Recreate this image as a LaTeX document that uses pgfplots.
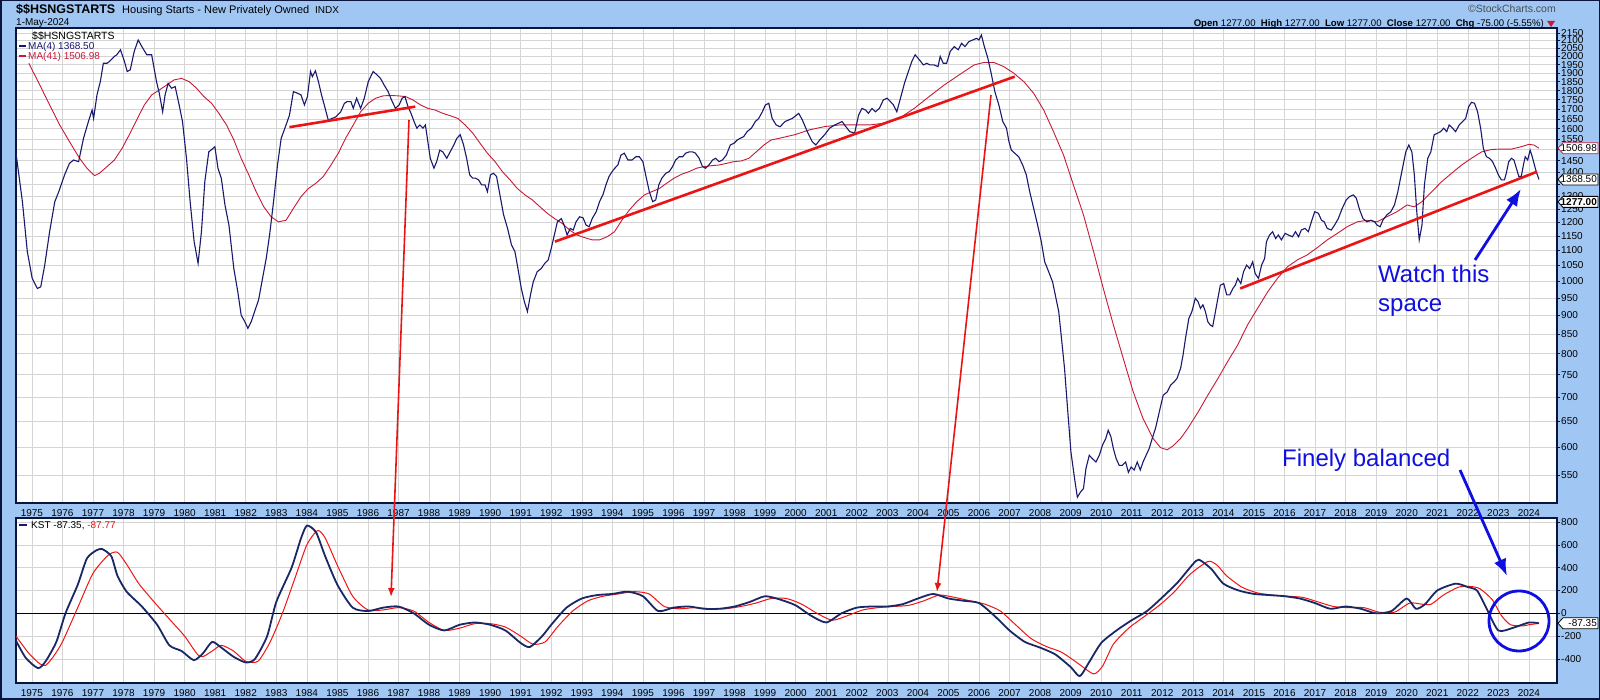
\documentclass[border=0pt]{standalone}
\usepackage{fontspec}
\setmainfont{Liberation Sans}
\usepackage{pgfplots}
\pgfplotsset{compat=1.18}
\usetikzlibrary{arrows.meta}
\definecolor{bgblue}{RGB}{160,198,244}
\definecolor{frame}{RGB}{10,20,60}
\definecolor{ma4}{RGB}{25,25,110}
\definecolor{ma41}{RGB}{200,25,55}
\definecolor{kst}{RGB}{25,40,100}
\definecolor{sig}{RGB}{240,20,20}
\definecolor{trend}{RGB}{235,20,20}
\definecolor{annblue}{RGB}{15,15,225}
\definecolor{gridc}{RGB}{212,212,212}
\newcommand{\tf}{\fontsize{10}{12}\selectfont}
\pgfplotsset{chartax/.style={scale only axis, width=1541pt, xmin=1974.48, xmax=2024.92,
  axis background/.style={fill=white}, axis line style={frame, line width=1.2pt},
  xtick={1975,1976,...,2024}, minor x tick num=1, xmajorgrids, xminorgrids, ymajorgrids,
  major grid style={gridc, line width=0.6pt}, minor grid style={gridc, line width=0.6pt},
  xtick style={draw=none}, minor tick length=0pt,
  ytick pos=right, yticklabel pos=right, tick align=outside, major tick length=3pt,
  ytick style={frame, line width=0.6pt},
  tick label style={font=\tf},
  yticklabel style={anchor=west, inner sep=0pt, xshift=1pt},
  xticklabel style={anchor=north, inner sep=0pt, yshift=-3pt, /pgf/number format/1000 sep={}, /pgf/number format/assume math mode=true},
  enlargelimits=false, clip=true}}
\begin{document}
\begin{tikzpicture}
\useasboundingbox (0,0) rectangle (1600pt,700pt);
\fill[bgblue] (0,0) rectangle (1600pt,700pt);
\draw[frame, line width=1.5pt] (0.75pt,0.75pt) rectangle (1599.25pt,699.25pt);

% ---------------- top panel ----------------
\begin{axis}[chartax, at={(16pt,197pt)}, anchor=south west, height=475pt,
  ymode=log, ymin=505, ymax=2183, yminorticks=false,
  ytick={550,600,650,700,750,800,850,900,950,1000,1050,1100,1150,1200,1250,1300,1350,1400,1450,1500,1550,1600,1650,1700,1750,1800,1850,1900,1950,2000,2050,2100,2150},
  yticklabels={550,600,650,700,750,800,850,900,950,1000,1050,1100,1150,1200,1250,1300,,1400,1450,,1550,1600,1650,1700,1750,1800,1850,1900,1950,2000,2050,2100,2150}]
% MA(41)
\addplot[ma41, line width=0.9pt] coordinates {
(1974.90,1958) (1975.26,1831) (1975.58,1722) (1975.91,1619) (1976.23,1538) (1976.56,1461) (1976.80,1417) (1977.05,1385) (1977.21,1395) (1977.46,1424) (1977.70,1453) (1977.95,1506) (1978.19,1571) (1978.43,1644) (1978.68,1722) (1978.92,1776) (1979.17,1803) (1979.41,1831) (1979.65,1860) (1979.90,1869) (1980.15,1850) (1980.39,1813) (1980.63,1767) (1980.88,1731) (1981.12,1678) (1981.37,1619) (1981.61,1546) (1981.85,1461) (1982.10,1388) (1982.34,1318) (1982.59,1258) (1982.83,1220) (1983.07,1201) (1983.32,1207) (1983.56,1252) (1983.81,1298) (1984.05,1331) (1984.30,1353) (1984.54,1381) (1984.79,1431) (1985.03,1484) (1985.27,1554) (1985.52,1619) (1985.76,1686) (1986.01,1731) (1986.25,1758) (1986.50,1771) (1986.74,1773) (1986.98,1771) (1987.23,1767) (1987.47,1749) (1987.72,1722) (1987.96,1704) (1988.20,1695) (1988.45,1678) (1988.69,1666) (1988.94,1652) (1989.18,1619) (1989.43,1579) (1989.67,1530) (1989.91,1484) (1990.16,1446) (1990.40,1402) (1990.65,1367) (1990.89,1331) (1991.14,1305) (1991.38,1285) (1991.63,1258) (1991.87,1233) (1992.11,1213) (1992.36,1195) (1992.60,1171) (1992.85,1153) (1993.09,1144) (1993.34,1136) (1993.58,1136) (1993.83,1147) (1994.07,1165) (1994.31,1207) (1994.56,1246) (1994.80,1278) (1995.05,1305) (1995.29,1318) (1995.54,1331) (1995.78,1353) (1996.02,1374) (1996.27,1391) (1996.51,1402) (1996.76,1417) (1997.00,1424) (1997.25,1428) (1997.49,1431) (1997.73,1438) (1997.98,1446) (1998.22,1449) (1998.47,1461) (1998.71,1490) (1998.96,1522) (1999.20,1546) (1999.44,1553) (1999.97,1571) (2000.46,1595) (2000.95,1611) (2001.44,1619) (2001.93,1619) (2002.42,1619) (2002.91,1628) (2003.39,1652) (2003.88,1704) (2004.37,1767) (2004.86,1831) (2005.35,1889) (2005.84,1948) (2006.16,1963) (2006.49,1963) (2006.81,1938) (2007.14,1899) (2007.47,1850) (2007.79,1785) (2008.12,1695) (2008.44,1586) (2008.77,1475) (2009.09,1346) (2009.42,1227) (2009.75,1096) (2010.07,978) (2010.40,874) (2010.72,789) (2011.05,711) (2011.37,655) (2011.70,616) (2011.94,599) (2012.16,595) (2012.35,602) (2012.60,616) (2012.84,636) (2013.17,668) (2013.49,704) (2013.82,741) (2014.14,781) (2014.47,822) (2014.79,874) (2015.12,920) (2015.45,968) (2015.77,1009) (2016.10,1046) (2016.42,1068) (2016.75,1085) (2017.07,1109) (2017.40,1136) (2017.73,1159) (2018.05,1183) (2018.38,1201) (2018.70,1207) (2019.03,1201) (2019.35,1220) (2019.68,1239) (2020.01,1265) (2020.25,1258) (2020.50,1278) (2020.82,1318) (2021.15,1360) (2021.47,1395) (2021.80,1431) (2022.12,1461) (2022.45,1490) (2022.77,1501) (2023.10,1503) (2023.43,1503) (2023.75,1514) (2024.00,1525) (2024.16,1522) (2024.33,1507)
};
% MA(4)
\addplot[ma4, line width=1.1pt] coordinates {
(1974.48,1484) (1974.69,1278) (1974.85,1096) (1975.01,1009) (1975.18,978) (1975.29,983) (1975.42,1051) (1975.58,1165) (1975.75,1278) (1975.88,1318) (1976.07,1388) (1976.23,1438) (1976.36,1453) (1976.53,1446) (1976.69,1554) (1976.85,1636) (1976.97,1695) (1977.02,1652) (1977.13,1776) (1977.24,1850) (1977.34,1958) (1977.46,1958) (1977.54,1969) (1977.70,2000) (1977.78,2010) (1977.90,2041) (1978.03,1969) (1978.12,1909) (1978.22,1919) (1978.35,2031) (1978.48,2104) (1978.60,2061) (1978.76,2010) (1978.92,2010) (1979.08,1850) (1979.17,1785) (1979.28,1686) (1979.36,1776) (1979.46,1840) (1979.57,1813) (1979.69,1822) (1979.82,1722) (1979.93,1636) (1980.06,1461) (1980.18,1278) (1980.31,1130) (1980.44,1057) (1980.55,1165) (1980.66,1359) (1980.79,1490) (1980.92,1505) (1980.99,1514) (1981.09,1417) (1981.20,1374) (1981.32,1265) (1981.45,1189) (1981.61,1040) (1981.74,968) (1981.85,901) (1981.97,883) (1982.07,865) (1982.18,883) (1982.29,911) (1982.42,944) (1982.55,1009) (1982.67,1073) (1982.78,1153) (1982.91,1278) (1983.04,1431) (1983.16,1554) (1983.32,1619) (1983.43,1668) (1983.56,1794) (1983.70,1785) (1983.81,1776) (1983.92,1722) (1984.02,1767) (1984.12,1909) (1984.18,1879) (1984.28,1913) (1984.38,1850) (1984.48,1776) (1984.57,1722) (1984.70,1644) (1984.83,1652) (1984.95,1660) (1985.11,1686) (1985.23,1731) (1985.32,1740) (1985.44,1740) (1985.52,1704) (1985.63,1758) (1985.76,1704) (1985.88,1758) (1986.01,1850) (1986.17,1909) (1986.30,1889) (1986.41,1869) (1986.53,1831) (1986.66,1794) (1986.77,1749) (1986.90,1704) (1987.02,1722) (1987.12,1758) (1987.21,1767) (1987.31,1713) (1987.41,1678) (1987.51,1636) (1987.60,1603) (1987.70,1619) (1987.80,1603) (1987.88,1619) (1987.96,1538) (1988.04,1461) (1988.16,1417) (1988.25,1446) (1988.35,1498) (1988.45,1490) (1988.58,1461) (1988.69,1490) (1988.81,1522) (1988.91,1554) (1989.02,1571) (1989.13,1522) (1989.23,1461) (1989.33,1388) (1989.43,1374) (1989.52,1374) (1989.62,1367) (1989.72,1346) (1989.83,1346) (1989.91,1318) (1990.01,1388) (1990.11,1395) (1990.21,1381) (1990.32,1305) (1990.44,1227) (1990.57,1177) (1990.70,1118) (1990.81,1096) (1990.89,1051) (1991.02,978) (1991.12,939) (1991.22,911) (1991.32,959) (1991.41,998) (1991.54,1030) (1991.67,1040) (1991.79,1057) (1991.90,1068) (1992.00,1107) (1992.10,1153) (1992.20,1201) (1992.33,1213) (1992.42,1189) (1992.52,1153) (1992.62,1177) (1992.72,1171) (1992.81,1201) (1992.93,1220) (1993.04,1216) (1993.14,1189) (1993.24,1183) (1993.34,1213) (1993.47,1239) (1993.58,1278) (1993.69,1305) (1993.79,1346) (1993.89,1381) (1993.99,1402) (1994.08,1417) (1994.18,1431) (1994.28,1475) (1994.39,1484) (1994.51,1453) (1994.64,1453) (1994.77,1468) (1994.88,1468) (1995.00,1446) (1995.09,1388) (1995.21,1318) (1995.32,1278) (1995.42,1285) (1995.52,1346) (1995.62,1374) (1995.75,1395) (1995.86,1402) (1995.97,1424) (1996.07,1453) (1996.19,1468) (1996.30,1468) (1996.40,1484) (1996.51,1490) (1996.63,1490) (1996.72,1484) (1996.84,1461) (1996.95,1424) (1997.05,1417) (1997.16,1431) (1997.28,1453) (1997.38,1461) (1997.49,1446) (1997.60,1453) (1997.73,1475) (1997.86,1522) (1997.98,1530) (1998.09,1546) (1998.19,1554) (1998.30,1562) (1998.41,1586) (1998.55,1603) (1998.68,1636) (1998.79,1652) (1998.91,1686) (1999.01,1722) (1999.12,1731) (1999.23,1652) (1999.36,1619) (1999.49,1610) (1999.65,1636) (1999.89,1652) (2000.10,1678) (2000.22,1644) (2000.38,1586) (2000.54,1538) (2000.66,1522) (2000.79,1546) (2000.95,1571) (2001.11,1603) (2001.28,1619) (2001.41,1628) (2001.52,1636) (2001.64,1611) (2001.77,1586) (2001.93,1579) (2002.06,1669) (2002.17,1704) (2002.29,1695) (2002.38,1678) (2002.50,1704) (2002.61,1686) (2002.74,1704) (2002.87,1749) (2002.99,1758) (2003.10,1740) (2003.20,1722) (2003.31,1686) (2003.43,1758) (2003.56,1840) (2003.69,1909) (2003.80,1969) (2003.91,2010) (2004.05,1979) (2004.18,1948) (2004.29,1958) (2004.40,1948) (2004.53,1948) (2004.66,1938) (2004.73,2000) (2004.83,1958) (2004.94,1958) (2005.06,2031) (2005.19,2061) (2005.32,2041) (2005.43,2082) (2005.54,2061) (2005.67,2093) (2005.80,2104) (2005.92,2114) (2006.00,2104) (2006.08,2136) (2006.16,2072) (2006.29,1989) (2006.41,1889) (2006.52,1794) (2006.65,1722) (2006.78,1636) (2006.90,1603) (2006.98,1538) (2007.06,1498) (2007.17,1484) (2007.30,1468) (2007.43,1431) (2007.55,1388) (2007.66,1318) (2007.79,1252) (2007.92,1189) (2008.04,1130) (2008.15,1062) (2008.28,1030) (2008.41,998) (2008.52,949) (2008.61,911) (2008.69,847) (2008.80,765) (2008.90,675) (2009.01,591) (2009.13,544) (2009.22,514) (2009.32,522) (2009.42,528) (2009.50,561) (2009.61,585) (2009.71,579) (2009.83,573) (2009.94,585) (2010.04,603) (2010.15,616) (2010.23,632) (2010.32,619) (2010.40,597) (2010.49,579) (2010.59,567) (2010.69,567) (2010.80,573) (2010.89,555) (2010.98,564) (2011.08,559) (2011.18,573) (2011.28,559) (2011.37,573) (2011.47,585) (2011.57,597) (2011.67,616) (2011.78,636) (2011.90,668) (2012.03,704) (2012.16,711) (2012.27,726) (2012.38,733) (2012.48,741) (2012.60,765) (2012.68,797) (2012.76,839) (2012.87,892) (2012.97,911) (2013.08,949) (2013.17,939) (2013.25,920) (2013.33,930) (2013.41,911) (2013.49,883) (2013.57,874) (2013.65,870) (2013.74,911) (2013.82,949) (2013.90,988) (2014.01,993) (2014.11,959) (2014.21,959) (2014.31,978) (2014.39,988) (2014.47,1009) (2014.57,993) (2014.66,1030) (2014.76,1051) (2014.86,1040) (2014.96,1062) (2015.04,1024) (2015.15,1009) (2015.25,1051) (2015.35,1073) (2015.41,1130) (2015.51,1153) (2015.61,1165) (2015.71,1141) (2015.80,1153) (2015.90,1136) (2016.02,1159) (2016.13,1153) (2016.26,1147) (2016.36,1165) (2016.46,1147) (2016.55,1171) (2016.67,1177) (2016.78,1165) (2016.88,1201) (2016.99,1239) (2017.11,1233) (2017.21,1207) (2017.30,1201) (2017.40,1177) (2017.53,1171) (2017.64,1189) (2017.76,1213) (2017.89,1252) (2018.02,1285) (2018.13,1298) (2018.25,1305) (2018.35,1292) (2018.46,1246) (2018.57,1213) (2018.70,1201) (2018.83,1207) (2018.95,1201) (2019.03,1189) (2019.13,1183) (2019.22,1207) (2019.35,1227) (2019.48,1239) (2019.60,1265) (2019.71,1318) (2019.84,1402) (2019.97,1490) (2020.07,1522) (2020.17,1490) (2020.25,1388) (2020.33,1239) (2020.41,1136) (2020.50,1189) (2020.58,1346) (2020.69,1461) (2020.79,1490) (2020.90,1571) (2021.02,1579) (2021.11,1586) (2021.21,1603) (2021.31,1586) (2021.39,1619) (2021.50,1603) (2021.60,1586) (2021.72,1619) (2021.83,1636) (2021.93,1652) (2022.03,1713) (2022.12,1736) (2022.22,1731) (2022.32,1686) (2022.42,1603) (2022.51,1506) (2022.61,1468) (2022.71,1461) (2022.81,1446) (2022.91,1417) (2023.00,1388) (2023.10,1367) (2023.20,1367) (2023.26,1395) (2023.34,1446) (2023.43,1461) (2023.51,1453) (2023.59,1417) (2023.67,1381) (2023.75,1381) (2023.82,1431) (2023.88,1468) (2023.96,1453) (2024.04,1498) (2024.11,1468) (2024.18,1431) (2024.24,1402) (2024.33,1368.5)
};
% trend lines
\draw[trend, line width=2.6pt] (axis cs:1983.43,1608) -- (axis cs:1987.55,1713);
\draw[trend, line width=2.6pt] (axis cs:1992.12,1130) -- (axis cs:2007.17,1879);
\draw[trend, line width=2.6pt] (axis cs:2014.55,978) -- (axis cs:2024.27,1402);
\end{axis}

% ---------------- bottom panel ----------------
\begin{axis}[chartax, at={(16pt,17pt)}, anchor=south west, height=165pt,
  ymin=-610, ymax=835,
  ytick={-400,-200,0,200,400,600,800},
  yticklabels={-400,-200,0,200,400,600,800}]
\addplot[black, line width=0.9pt] coordinates {(1974.48,0) (2024.92,0)};
% signal
\addplot[sig, line width=1pt, smooth, tension=0.4] coordinates {
(1974.48,-200) (1974.9,-350) (1975.25,-440) (1975.45,-455) (1975.7,-380) (1976.0,-250) (1976.5,50) (1977.0,350) (1977.5,510) (1977.8,535) (1978.1,430) (1978.5,260) (1979.0,100) (1979.5,-50) (1980.0,-200) (1980.5,-380) (1980.9,-330) (1981.2,-280) (1981.6,-330) (1982.0,-420) (1982.4,-420) (1982.8,-250) (1983.2,0) (1983.6,300) (1984.0,600) (1984.35,725) (1984.6,660) (1985.0,420) (1985.5,150) (1986.0,30) (1986.5,30) (1987.0,50) (1987.5,20) (1988.0,-80) (1988.5,-150) (1989.0,-130) (1989.5,-90) (1990.0,-90) (1990.5,-120) (1991.0,-200) (1991.4,-270) (1991.8,-250) (1992.2,-120) (1992.7,20) (1993.2,110) (1993.7,150) (1994.2,170) (1994.7,190) (1995.2,170) (1995.7,60) (1996.2,40) (1996.7,50) (1997.2,40) (1997.7,40) (1998.2,60) (1998.7,90) (1999.2,130) (1999.7,130) (2000.2,80) (2000.7,0) (2001.2,-60) (2001.7,-20) (2002.2,30) (2002.7,50) (2003.2,60) (2003.7,70) (2004.2,110) (2004.7,160) (2005.2,140) (2005.7,110) (2006.2,80) (2006.7,20) (2007.2,-100) (2007.7,-220) (2008.2,-290) (2008.7,-340) (2009.2,-430) (2009.75,-530) (2010.05,-460) (2010.4,-270) (2010.9,-130) (2011.4,-30) (2011.9,70) (2012.4,190) (2012.9,340) (2013.5,455) (2013.8,420) (2014.1,330) (2014.6,230) (2015.1,180) (2015.6,160) (2016.1,150) (2016.6,140) (2017.1,100) (2017.6,60) (2018.1,50) (2018.6,50) (2019.1,10) (2019.6,10) (2020.1,90) (2020.5,80) (2020.8,80) (2021.2,160) (2021.7,230) (2022.1,235) (2022.4,215) (2022.8,120) (2023.1,-20) (2023.4,-100) (2023.8,-110) (2024.0,-100) (2024.33,-88)
};
% KST
\addplot[kst, line width=1.8pt, smooth, tension=0.4] coordinates {
(1974.48,-240) (1974.8,-390) (1975.2,-480) (1975.45,-420) (1975.8,-250) (1976.1,0) (1976.5,250) (1976.8,480) (1977.1,550) (1977.3,563) (1977.6,500) (1977.8,330) (1978.1,190) (1978.6,60) (1979.1,-100) (1979.5,-280) (1979.9,-330) (1980.3,-410) (1980.6,-350) (1980.9,-250) (1981.2,-300) (1981.6,-380) (1982.0,-430) (1982.3,-400) (1982.7,-200) (1983.0,100) (1983.5,400) (1983.8,650) (1984.0,768) (1984.3,710) (1984.6,500) (1985.0,250) (1985.5,50) (1986.0,20) (1986.5,50) (1987.0,60) (1987.5,0) (1988.0,-100) (1988.5,-150) (1989.0,-100) (1989.5,-80) (1990.0,-100) (1990.5,-150) (1991.0,-260) (1991.3,-295) (1991.7,-200) (1992.0,-100) (1992.5,50) (1993.0,130) (1993.5,160) (1994.0,170) (1994.5,190) (1995.0,150) (1995.5,20) (1996.0,50) (1996.5,60) (1997.0,40) (1997.5,40) (1998.0,60) (1998.5,100) (1999.0,150) (1999.5,120) (2000.0,70) (2000.5,-20) (2001.0,-80) (2001.5,0) (2002.0,50) (2002.5,60) (2003.0,60) (2003.5,80) (2004.0,130) (2004.5,170) (2005.0,130) (2005.5,110) (2006.0,90) (2006.5,-20) (2007.0,-150) (2007.5,-250) (2008.0,-300) (2008.5,-360) (2009.0,-470) (2009.3,-550) (2009.6,-430) (2010.0,-260) (2010.5,-150) (2011.0,-60) (2011.5,20) (2012.0,140) (2012.5,270) (2013.0,430) (2013.2,470) (2013.6,390) (2014.0,260) (2014.5,200) (2015.0,170) (2015.5,160) (2016.0,150) (2016.5,130) (2017.0,90) (2017.5,40) (2018.0,60) (2018.5,40) (2019.0,0) (2019.5,20) (2020.0,130) (2020.3,40) (2020.6,80) (2021.0,200) (2021.6,260) (2022.0,230) (2022.3,200) (2022.6,50) (2023.0,-150) (2023.5,-125) (2024.0,-80) (2024.33,-87.35)
};
\end{axis}

% ---------------- decorations ----------------
\begin{scope}[x=1pt,y=1pt]
% header
\node[anchor=base west, inner sep=0pt, font=\fontsize{12.5}{15}\selectfont\bfseries] at (16,686) {\$\$HSNGSTARTS};
\node[anchor=base west, inner sep=0pt, font=\fontsize{11}{13}\selectfont] at (122,686) {Housing Starts - New Privately Owned};
\node[anchor=base west, inner sep=0pt, font=\fontsize{10}{12}\selectfont] at (315,686) {INDX};
\node[anchor=base west, inner sep=0pt, font=\tf] at (16,674) {1-May-2024};
\node[anchor=base east, inner sep=0pt, font=\fontsize{10.5}{12}\selectfont, text=black!70] at (1556,687) {\textcopyright StockCharts.com};
\node[anchor=base east, inner sep=0pt, font=\fontsize{9.6}{12}\selectfont] at (1544,673) {\textbf{Open} 1277.00 \ \textbf{High} 1277.00 \ \textbf{Low} 1277.00 \ \textbf{Close} 1277.00 \ \textbf{Chg} -75.00 (-5.55\%)};
\fill[ma41] (1547,679) -- (1555,679) -- (1551,673) -- cycle;
% top legend
\node[anchor=base west, inner sep=0pt, font=\fontsize{10.5}{12}\selectfont] at (32,660) {\$\$HSNGSTARTS};
\fill[ma4] (19,652.5) rectangle (26,654.5);
\node[anchor=base west, inner sep=0pt, font=\tf, text=ma4] at (28,650) {MA(4) 1368.50};
\fill[ma41] (19,642.5) rectangle (26,644.5);
\node[anchor=base west, inner sep=0pt, font=\tf, text=ma41] at (28,640) {MA(41) 1506.98};
% bottom legend
\fill[ma4] (19,174) rectangle (27,176);
\node[anchor=base west, inner sep=0pt, font=\tf] at (31,171) {KST -87.35, \textcolor{sig}{-87.77}};
% value boxes
\foreach \yy/\txt/\col/\bf in {551.8/1506.98/ma41/, 520.5/1368.50/black/, 498.1/1277.00/black/\bfseries, 76.7/-87.35/black/} {
  \filldraw[draw=\col, fill=white, line width=0.8pt] (1558,\yy) -- (1563,\yy+5.5) -- (1598,\yy+5.5) -- (1598,\yy-5.5) -- (1563,\yy-5.5) -- cycle;
  \node[anchor=east, inner sep=0pt, font=\tf\bf] at (1597,\yy) {\txt};
}
% red arrows
\draw[trend, line width=1.6pt, -{Latex[length=9pt,width=7pt]}] (409,580) -- (391,103);
\draw[trend, line width=1.6pt, -{Latex[length=9pt,width=7pt]}] (991,605) -- (937,108);
% blue annotations
\draw[annblue, line width=2.8pt, -{Latex[length=17pt,width=13pt]}] (1475,440) -- (1521,511);
\draw[annblue, line width=2.8pt, -{Latex[length=17pt,width=13pt]}] (1460,230) -- (1507,124);
\draw[annblue, line width=2.8pt] (1519,79) circle (30);
\node[anchor=base west, inner sep=0pt, font=\fontsize{24}{28}\selectfont, text=annblue] at (1378,417) {Watch this};
\node[anchor=base west, inner sep=0pt, font=\fontsize{24}{28}\selectfont, text=annblue] at (1378,388) {space};
\node[anchor=base west, inner sep=0pt, font=\fontsize{24}{28}\selectfont, text=annblue] at (1282,233) {Finely balanced};
\end{scope}
\end{tikzpicture}
\end{document}
